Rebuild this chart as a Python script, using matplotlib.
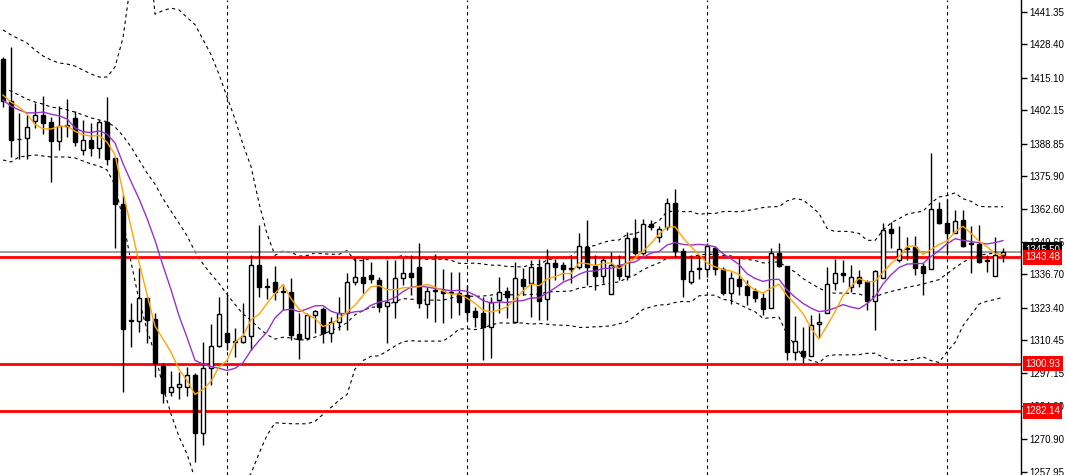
import numpy as np
import pandas as pd
import matplotlib
matplotlib.use('Agg')
import matplotlib.pyplot as plt
import matplotlib.transforms as mtransforms

#%% candles (one per bar, left to right)
opens = [1422.6, 1405.8, 1390.7, 1391.1, 1397.9, 1400.3, 1397.5, 1389.9, 1395.9, 1399.1,
         1386.3, 1390.3, 1387.1, 1397.5, 1383.1, 1364.7, 1318.5, 1318.1, 1327.2, 1318.9,
         1300.1, 1289.7, 1291.7, 1291.7, 1296.5, 1273.4, 1299.3, 1308.1, 1313.3, 1310.1,
         1309.7, 1312.1, 1340.4, 1332.0, 1333.6, 1330.0, 1329.6, 1312.9, 1311.3, 1320.5,
         1322.9, 1313.3, 1317.7, 1321.3, 1333.6, 1335.6, 1336.4, 1334.4, 1324.0, 1325.6,
         1335.2, 1337.2, 1339.6, 1324.8, 1330.4, 1330.0, 1329.6, 1329.2, 1328.4, 1322.1,
         1321.3, 1315.7, 1326.4, 1330.0, 1317.7, 1334.8, 1333.2, 1339.6, 1326.8, 1341.2,
         1340.4, 1339.2, 1339.6, 1347.6, 1340.0, 1336.0, 1328.8, 1340.4, 1336.0, 1351.2,
         1345.2, 1356.8, 1351.6, 1355.6, 1365.1, 1346.0, 1333.6, 1339.2, 1338.8, 1347.2,
         1338.8, 1329.2, 1334.8, 1332.0, 1330.0, 1327.2, 1323.2, 1345.2, 1340.0, 1305.7,
         1306.1, 1304.1, 1316.9, 1321.3, 1333.2, 1337.2, 1331.6, 1335.6, 1333.6, 1326.0,
         1335.2, 1354.8, 1342.4, 1347.0, 1347.6, 1340.0, 1338.8, 1362.8, 1357.2, 1353.2,
         1358.4, 1349.2, 1348.8, 1342.4, 1336.0, 1344.4]
highs = [1423.4, 1427.4, 1401.1, 1400.3, 1405.0, 1407.8, 1399.5, 1403.8, 1406.6, 1401.9,
         1398.3, 1397.1, 1398.3, 1407.4, 1383.5, 1368.3, 1325.2, 1339.2, 1327.6, 1321.3,
         1301.3, 1298.1, 1297.7, 1299.7, 1297.3, 1309.7, 1316.9, 1327.6, 1328.4, 1315.3,
         1325.2, 1344.4, 1356.4, 1335.2, 1340.0, 1332.8, 1335.2, 1321.3, 1321.3, 1322.5,
         1323.6, 1319.7, 1327.6, 1337.2, 1343.2, 1343.2, 1341.6, 1335.6, 1342.4, 1342.4,
         1343.2, 1344.4, 1349.2, 1331.6, 1344.8, 1338.8, 1337.6, 1337.6, 1332.4, 1323.6,
         1327.6, 1327.6, 1335.6, 1331.6, 1341.6, 1339.2, 1342.4, 1342.8, 1346.8, 1342.8,
         1341.6, 1343.6, 1353.2, 1358.4, 1344.4, 1343.6, 1345.6, 1344.4, 1353.6, 1358.8,
         1358.8, 1358.4, 1356.0, 1367.1, 1370.7, 1347.2, 1344.4, 1344.4, 1349.2, 1348.0,
         1339.6, 1337.6, 1343.2, 1334.4, 1331.2, 1329.2, 1347.2, 1349.2, 1340.0, 1320.1,
         1315.7, 1320.5, 1321.3, 1339.6, 1342.8, 1342.4, 1340.4, 1338.4, 1334.4, 1338.4,
         1357.2, 1357.6, 1356.0, 1351.6, 1352.0, 1341.2, 1385.1, 1365.5, 1366.7, 1362.4,
         1362.4, 1356.0, 1356.4, 1344.4, 1351.6, 1347.2]
lows = [1403.4, 1383.5, 1382.7, 1382.7, 1395.1, 1392.7, 1373.5, 1386.3, 1391.5, 1387.9,
        1384.3, 1383.9, 1383.1, 1380.3, 1347.2, 1289.7, 1307.7, 1313.7, 1309.3, 1295.7,
        1285.3, 1288.1, 1286.9, 1288.1, 1261.8, 1268.6, 1292.5, 1307.7, 1306.5, 1303.7,
        1309.3, 1306.5, 1327.6, 1326.8, 1326.4, 1322.5, 1310.5, 1302.9, 1310.5, 1313.3,
        1309.3, 1309.7, 1314.5, 1314.5, 1332.4, 1329.2, 1333.2, 1321.7, 1309.3, 1319.3,
        1332.4, 1328.4, 1323.2, 1319.3, 1317.7, 1317.3, 1319.3, 1320.5, 1318.5, 1315.7,
        1302.5, 1303.3, 1321.3, 1319.3, 1317.7, 1328.4, 1319.7, 1318.5, 1318.5, 1334.4,
        1334.4, 1333.2, 1338.8, 1332.4, 1330.4, 1333.2, 1328.8, 1334.4, 1334.4, 1344.4,
        1344.4, 1354.4, 1349.6, 1354.4, 1343.6, 1327.6, 1332.8, 1334.8, 1335.6, 1336.4,
        1328.4, 1324.8, 1328.4, 1324.4, 1325.6, 1320.5, 1323.2, 1339.6, 1302.5, 1302.5,
        1301.3, 1304.1, 1311.3, 1321.3, 1330.4, 1333.6, 1329.6, 1331.6, 1322.5, 1314.5,
        1335.2, 1347.2, 1341.6, 1342.4, 1336.4, 1328.4, 1338.8, 1356.8, 1345.2, 1353.2,
        1347.6, 1337.2, 1341.2, 1337.6, 1336.0, 1341.6]
closes = [1405.8, 1390.3, 1390.5, 1395.5, 1400.3, 1397.1, 1389.9, 1395.9, 1396.3, 1389.5,
          1390.3, 1387.1, 1397.5, 1382.7, 1364.7, 1314.9, 1318.1, 1327.2, 1318.5, 1301.3,
          1289.3, 1291.7, 1292.9, 1296.5, 1273.4, 1299.3, 1308.1, 1320.9, 1309.7, 1309.7,
          1312.1, 1340.4, 1331.6, 1331.6, 1329.6, 1329.6, 1312.5, 1310.9, 1320.5, 1322.1,
          1313.3, 1317.7, 1321.3, 1333.6, 1335.6, 1333.2, 1334.8, 1323.6, 1325.6, 1335.2,
          1337.2, 1335.6, 1325.2, 1330.0, 1330.0, 1329.2, 1329.4, 1325.6, 1321.7, 1319.7,
          1315.7, 1325.6, 1329.6, 1327.6, 1335.2, 1332.0, 1339.6, 1326.0, 1341.2, 1339.6,
          1338.8, 1338.8, 1348.0, 1339.6, 1336.0, 1342.4, 1340.4, 1336.0, 1351.2, 1345.2,
          1356.8, 1355.6, 1354.8, 1365.1, 1346.0, 1334.8, 1338.0, 1338.8, 1348.0, 1338.8,
          1329.2, 1335.2, 1332.0, 1328.4, 1327.2, 1322.9, 1345.2, 1340.0, 1305.7, 1310.1,
          1304.1, 1316.5, 1317.7, 1332.8, 1337.2, 1336.4, 1335.6, 1333.2, 1326.0, 1338.0,
          1354.4, 1353.2, 1346.8, 1346.6, 1339.2, 1337.2, 1362.8, 1357.2, 1353.2, 1358.0,
          1348.0, 1348.8, 1341.6, 1342.0, 1344.4, 1345.5]

# indicator values for the first bars (history before the window)
ma5_start = [1408.2, 1405.4, 1403.4, 1400.6]
ma10_start = [1406.2, 1403.8, 1402.3, 1401.1, 1401.1, 1401.4, 1400.6, 1399.9, 1398.7]
bb_up_start = [1434.2, 1432.2, 1430.6, 1429.0, 1426.2, 1423.8, 1422.2, 1421.0, 1420.6, 1419.8,
               1418.2, 1416.6, 1415.4, 1415.4, 1419.4, 1431.0, 1454.1, 1466.1, 1474.1]
bb_mid_start = [1411.0, 1409.8, 1408.2, 1406.6, 1405.4, 1404.6, 1403.4, 1403.0, 1402.3, 1401.4,
                1400.3, 1399.1, 1398.3, 1397.5, 1395.5, 1391.9, 1387.5, 1382.3, 1377.1]
bb_lo_start = [1382.3, 1381.5, 1383.5, 1383.9, 1384.3, 1383.9, 1383.5, 1383.5, 1383.5, 1383.1,
               1381.9, 1380.7, 1379.9, 1378.3, 1372.3, 1358.4, 1341.6, 1326.4, 1314.5]

levels = [1343.48, 1300.93, 1282.14]
separators = [28, 58, 88, 118]
price_ticks = [1441.35, 1428.40, 1415.10, 1402.15, 1388.85, 1375.90, 1362.60, 1349.65,
               1336.70, 1323.40, 1310.45, 1297.15, 1284.20, 1270.90, 1257.95]


def main():
    plt.rcParams['font.family'] = ['Liberation Sans', 'DejaVu Sans']
    o = np.array(opens)
    h = np.array(highs)
    l = np.array(lows)
    c = np.array(closes)
    x = np.arange(len(c))

    s = pd.Series(c)
    ma5 = s.rolling(5).mean().to_numpy()
    ma5[:4] = ma5_start
    ma10 = s.rolling(10).mean().to_numpy()
    ma10[:9] = ma10_start
    mid = s.rolling(20).mean()
    sd = s.rolling(20).std(ddof=0)
    up = (mid + 2 * sd).to_numpy()
    lo = (mid - 2 * sd).to_numpy()
    mid = mid.to_numpy()
    up[:19] = bb_up_start
    mid[:19] = bb_mid_start
    lo[:19] = bb_lo_start

    fig = plt.figure(figsize=(10.67, 4.75), dpi=100)
    ax = fig.add_axes([0, 0, 1021 / 1067, 1])

    dash = (0, (3, 3))
    for xs in separators:
        ax.axvline(xs, color='black', lw=0.8, ls=dash, zorder=1)

    ax.plot(x, up, color='black', lw=0.8, ls=dash, zorder=2)
    ax.plot(x, mid, color='black', lw=0.8, ls=dash, zorder=2)
    ax.plot(x, lo, color='black', lw=0.8, ls=dash, zorder=2)

    ax.axhline(c[-1], color='#8c8c8c', lw=1.2, zorder=2)
    for lv in levels:
        ax.axhline(lv, color='red', lw=2, zorder=3)

    ax.vlines(x, l, h, color='black', lw=1, zorder=4)
    up_bar = c >= o
    ax.bar(x[up_bar], (c - o)[up_bar], bottom=o[up_bar], width=0.6,
           color='white', edgecolor='black', lw=1, zorder=5)
    ax.bar(x[~up_bar], (o - c)[~up_bar], bottom=c[~up_bar], width=0.6,
           color='black', edgecolor='black', lw=1, zorder=5)

    ax.plot(x, ma10, color='#9932cc', lw=1, zorder=6)
    ax.plot(x, ma5, color='#ffa500', lw=1, zorder=6)

    ax.set_xlim(-0.375, 127.25)
    ax.set_ylim(1256.59, 1446.14)
    for side in ['left', 'top', 'bottom']:
        ax.spines[side].set_visible(False)
    ax.spines['right'].set_linewidth(1)
    ax.set_xticks([])
    ax.yaxis.tick_right()
    ax.set_yticks(price_ticks)
    ax.set_yticklabels([f"{v:.2f}" for v in price_ticks])
    ax.tick_params(axis='y', direction='out', length=4, width=1, labelsize=7, pad=2)

    tr = mtransforms.blended_transform_factory(ax.transAxes, ax.transData)
    ax.text(1.004, c[-1] + 0.9, f"{c[-1]:.2f}", transform=tr, color='white', fontsize=7,
            va='center', ha='left', clip_on=False, zorder=10,
            bbox=dict(facecolor='black', edgecolor='none', pad=1.8))
    for lv in levels:
        ax.text(1.004, lv, f"{lv:.2f}", transform=tr, color='white', fontsize=7,
                va='center', ha='left', clip_on=False, zorder=11,
                bbox=dict(facecolor='red', edgecolor='none', pad=1.8))

    fig.savefig('out.png', dpi=100, facecolor='white')


if __name__ == "__main__":
    main()
